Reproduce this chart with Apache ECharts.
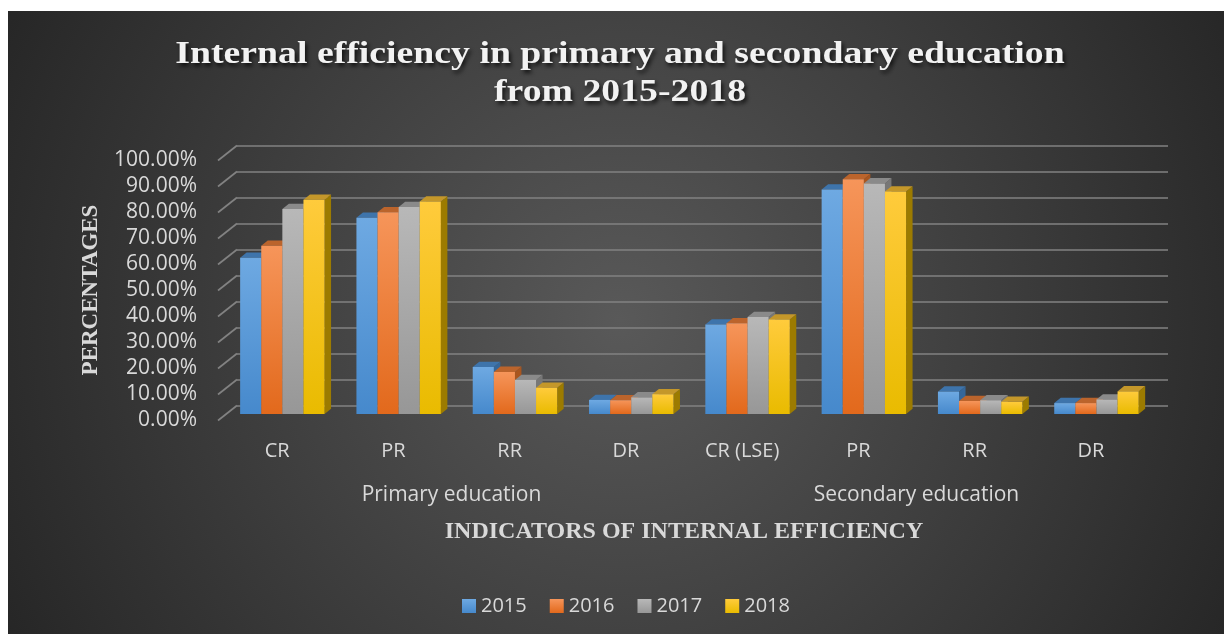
<!DOCTYPE html>
<html>
<head>
<meta charset="utf-8">
<script src="https://cdn.jsdelivr.net/npm/echarts@6/dist/echarts.min.js"></script>
<style>
html,body{margin:0;padding:0;background:#ffffff;}
#chart{width:1224px;height:634px;}
</style>
</head>
<body>
<div id="chart"></div>
<script>
// ---------- data ----------
const categories = ['CR', 'PR', 'RR', 'DR', 'CR (LSE)', 'PR', 'RR', 'DR'];
const groups = ['Primary education', 'Secondary education'];
const years = ['2015', '2016', '2017', '2018'];
const v2015 = [0.601, 0.755, 0.181, 0.054, 0.344, 0.863, 0.086, 0.042];
const v2016 = [0.647, 0.776, 0.162, 0.053, 0.349, 0.903, 0.050, 0.042];
const v2017 = [0.788, 0.796, 0.131, 0.064, 0.373, 0.887, 0.053, 0.056];
const v2018 = [0.824, 0.817, 0.101, 0.076, 0.363, 0.856, 0.047, 0.087];
const yTicks = [0, 0.1, 0.2, 0.3, 0.4, 0.5, 0.6, 0.7, 0.8, 0.9, 1.0];
const titleText = 'Internal efficiency in primary and secondary education\nfrom 2015-2018';
const xTitle = 'INDICATORS OF INTERNAL EFFICIENCY';
const yTitle = 'PERCENTAGES';

// ---------- styles ----------
const seriesValues = [v2015, v2016, v2017, v2018];
const palette = [
  { top: '#6ea9e2', bottom: '#4689cc', cap: '#3e74ab', side: '#35679a' },
  { top: '#f6955a', bottom: '#e2691c', cap: '#bb642c', side: '#a9561f' },
  { top: '#b8b8b8', bottom: '#979797', cap: '#8a8a8a', side: '#777777' },
  { top: '#ffcb3c', bottom: '#e9bb00', cap: '#c4972a', side: '#9c7b00' }
];
const gridColor = '#828282';
const labelColor = '#d9d9d9';
const sansFont = '"Open Sans", "Liberation Sans", sans-serif';
const serifFont = '"Liberation Serif", "Times New Roman", serif';
const DX = 6.5, DY = -5.3;          // bar depth offset
const WX = -19, WY = 15;            // wall depth (back -> front)
const BAR_FRAC = 0.1815;            // bar width as fraction of band

function vgrad(c1, c2) {
  return new echarts.graphic.LinearGradient(0, 0, 0, 1, [
    { offset: 0, color: c1 }, { offset: 1, color: c2 }
  ]);
}

function barRenderer(k) {
  return function (params, api) {
    const ci = api.value(0);
    const val = api.value(1);
    const top = api.coord([ci, val]);
    const base = api.coord([ci, 0]);
    const band = api.size([1, 0])[0];
    const bw = band * BAR_FRAC;
    const x0 = top[0] - 2 * bw + k * bw;
    const x1 = x0 + bw;
    const yt = top[1], yb = base[1];
    const p = palette[k];
    return {
      type: 'group',
      children: [
        { type: 'polygon', shape: { points: [[x1, yt], [x1 + DX, yt + DY], [x1 + DX, yb + DY], [x1, yb]] },
          style: { fill: p.side } },
        { type: 'polygon', shape: { points: [[x0, yt], [x0 + DX, yt + DY], [x1 + DX, yt + DY], [x1, yt]] },
          style: { fill: p.cap } },
        { type: 'rect', shape: { x: x0, y: yt, width: bw, height: yb - yt },
          style: { fill: vgrad(p.top, p.bottom) } }
      ]
    };
  };
}

const barSeries = years.map((y, k) => ({
  name: y,
  type: 'custom',
  xAxisIndex: 3,
  yAxisIndex: 2,
  itemStyle: { color: vgrad(palette[k].top, palette[k].bottom) },
  renderItem: barRenderer(k),
  data: seriesValues[k].map((v, i) => [i, v]),
  z: 5
}));

const chart = echarts.init(document.getElementById('chart'), null, { renderer: 'canvas' });

const option = {
  animation: false,
  backgroundColor: '#ffffff',
  graphic: [{
    type: 'rect',
    silent: true,
    z: -10,
    shape: { x: 8, y: 11, width: 1216, height: 623 },
    style: {
      fill: {
        type: 'radial', x: 620, y: 320, r: 720, global: true,
        colorStops: [{ offset: 0, color: '#595959' }, { offset: 1, color: '#242424' }]
      }
    }
  }, {
    type: 'text',
    silent: true,
    z: 10,
    x: 620,
    y: 36,
    scaleX: 1.18,
    style: {
      text: titleText,
      align: 'center',
      verticalAlign: 'top',
      fontFamily: serifFont, fontWeight: 'bold', fontSize: 32, lineHeight: 38,
      fill: '#f2f2f2',
      textShadowColor: 'rgba(0,0,0,0.75)', textShadowBlur: 4,
      textShadowOffsetX: 2, textShadowOffsetY: 3
    }
  }],
  legend: {
    data: years,
    left: 457,
    top: 591,
    itemWidth: 14,
    itemHeight: 14,
    itemGap: 23,
    icon: 'rect',
    textStyle: { color: labelColor, fontFamily: sansFont, fontSize: 20 }
  },
  grid: [
    // front plane (labels)
    { left: 219, right: 75, top: 160, height: 260 },
    // back wall (grid lines)
    { left: 237, right: 56, top: 145.5, height: 260 },
    // bar plane
    { left: 224.2, right: 69.4, top: 154, height: 260 }
  ],
  xAxis: [
    { gridIndex: 0, type: 'category', data: categories, position: 'bottom',
      axisLine: { show: false }, axisTick: { show: false }, splitLine: { show: false },
      axisLabel: { color: labelColor, fontFamily: sansFont, fontSize: 20, margin: 21, interval: 0 } },
    { gridIndex: 0, type: 'category', data: groups, position: 'bottom', offset: 45,
      axisLine: { show: false }, axisTick: { show: false }, splitLine: { show: false },
      axisLabel: { color: labelColor, fontFamily: sansFont, fontSize: 21, margin: 20, interval: 0 },
      name: xTitle, nameLocation: 'middle', nameGap: 55,
      nameTextStyle: { color: labelColor, fontFamily: serifFont, fontWeight: 'bold', fontSize: 24 } },
    { gridIndex: 1, type: 'value', min: 0, max: 1, show: false },
    { gridIndex: 2, type: 'category', data: categories, show: false }
  ],
  yAxis: [
    { gridIndex: 0, type: 'value', min: 0, max: 1, interval: 0.1,
      axisLine: { show: false }, axisTick: { show: false }, splitLine: { show: false },
      axisLabel: { color: labelColor, fontFamily: sansFont, fontSize: 21, margin: 22,
        formatter: v => (v * 100).toFixed(2) + '%' },
      name: yTitle, nameLocation: 'middle', nameGap: 116, nameRotate: 90,
      nameTextStyle: { color: labelColor, fontFamily: serifFont, fontWeight: 'bold', fontSize: 23 } },
    { gridIndex: 1, type: 'value', min: 0, max: 1, interval: 0.1,
      axisLine: { show: false }, axisTick: { show: false }, axisLabel: { show: false },
      splitLine: { show: true, lineStyle: { color: gridColor, width: 1.7 } } },
    { gridIndex: 2, type: 'value', min: 0, max: 1, show: false }
  ],
  series: [
    {
      name: 'wallTicks',
      type: 'custom',
      xAxisIndex: 2,
      yAxisIndex: 1,
      silent: true,
      legendHoverLink: false,
      renderItem: function (params, api) {
        const p = api.coord([0, api.value(1)]);
        return { type: 'line', shape: { x1: p[0], y1: p[1], x2: p[0] + WX, y2: p[1] + WY },
          style: { stroke: gridColor, lineWidth: 1.7 } };
      },
      data: yTicks.map(v => [0, v]),
      z: 1
    }
  ].concat(barSeries)
};

chart.setOption(option);
</script>
</body>
</html>
